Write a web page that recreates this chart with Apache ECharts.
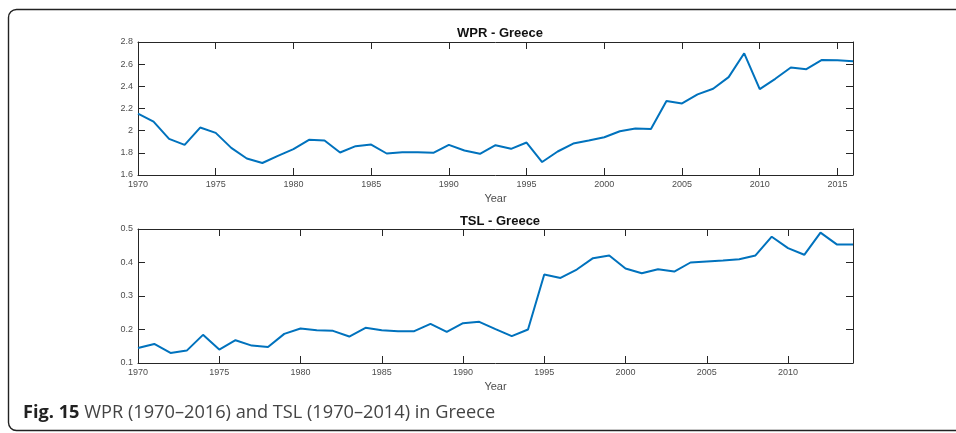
<!DOCTYPE html>
<html>
<head>
<meta charset="utf-8">
<script src="https://cdn.jsdelivr.net/npm/echarts@6/dist/echarts.min.js"></script>
<style>
  html, body { margin: 0; padding: 0; background: #fff; }
  #main { width: 956px; height: 433px; }
</style>
</head>
<body>
<div id="main"></div>
<script>
// data
var wprYears = [];
for (var y = 1970; y <= 2016; y++) wprYears.push(y);
var wprValues = [2.154, 2.082, 1.926, 1.872, 2.028, 1.980, 1.845, 1.749, 1.708, 1.773,
                 1.833, 1.917, 1.911, 1.803, 1.860, 1.875, 1.794, 1.806, 1.806, 1.800,
                 1.872, 1.821, 1.791, 1.869, 1.836, 1.893, 1.717, 1.812, 1.884, 1.911,
                 1.941, 1.995, 2.019, 2.016, 2.267, 2.246, 2.327, 2.378, 2.483, 2.698,
                 2.375, 2.468, 2.570, 2.555, 2.638, 2.635, 2.626];

var tslYears = [];
for (var y2 = 1970; y2 <= 2014; y2++) tslYears.push(y2);
var tslValues = [0.145, 0.157, 0.130, 0.137, 0.184, 0.140, 0.168, 0.152, 0.148, 0.187,
                 0.203, 0.198, 0.196, 0.179, 0.205, 0.198, 0.195, 0.195, 0.217, 0.193,
                 0.219, 0.223, 0.201, 0.180, 0.200, 0.364, 0.354, 0.379, 0.413, 0.421,
                 0.382, 0.368, 0.380, 0.373, 0.400, 0.403, 0.406, 0.410, 0.421, 0.477,
                 0.443, 0.423, 0.489, 0.454, 0.454];

var titles = ['WPR - Greece', 'TSL - Greece'];

function pairs(xs, ys) {
  return xs.map(function (x, i) { return [x, ys[i]]; });
}

var axisCol = '#262626';
var tickFont = { fontFamily: 'Liberation Sans, Arial', fontSize: 9, color: '#4d4d4d' };

function xAxisPair(grid, max) {
  var base = {
    type: 'value', gridIndex: grid, min: 1970, max: max, interval: 5,
    splitLine: { show: false },
    axisLine: { show: true, lineStyle: { color: axisCol, width: 1 } },
    axisTick: { show: true, inside: true, length: 7, lineStyle: { color: axisCol } }
  };
  var bottom = Object.assign({}, base, {
    position: 'bottom',
    name: 'Year', nameLocation: 'middle', nameGap: 18,
    nameTextStyle: { fontFamily: 'Liberation Sans, Arial', fontSize: 11, color: '#4d4d4d' },
    axisLabel: Object.assign({ margin: 5, showMaxLabel: false,
      formatter: function (v) { return String(v); } }, tickFont)
  });
  var top = Object.assign({}, base, { position: 'top', axisLabel: { show: false } });
  return [bottom, top];
}

function yAxisPair(grid, min, max, step) {
  var base = {
    type: 'value', gridIndex: grid, min: min, max: max, interval: step,
    splitLine: { show: false },
    axisLine: { show: true, lineStyle: { color: axisCol, width: 1 } },
    axisTick: { show: true, inside: true, length: 7, lineStyle: { color: axisCol } }
  };
  var left = Object.assign({}, base, {
    position: 'left',
    axisLabel: Object.assign({ margin: 5,
      formatter: function (v) { return String(+v.toFixed(2)); } }, tickFont)
  });
  var right = Object.assign({}, base, { position: 'right', axisLabel: { show: false } });
  return [left, right];
}

var chart = echarts.init(document.getElementById('main'));

var titleStyle = { fontFamily: 'Liberation Sans, Arial', fontSize: 13, fontWeight: 'bold', color: '#111' };

var option = {
  animation: false,
  backgroundColor: '#fff',
  title: [
    { text: titles[0], left: 495, top: 22, textAlign: 'center', textStyle: titleStyle },
    { text: titles[1], left: 495, top: 210, textAlign: 'center', textStyle: titleStyle }
  ],
  grid: [
    { left: 138, top: 42, width: 715, height: 133 },
    { left: 138, top: 229, width: 715, height: 134 }
  ],
  xAxis: xAxisPair(0, 2016).concat(xAxisPair(1, 2014)),
  yAxis: yAxisPair(0, 1.6, 2.8, 0.2).concat(yAxisPair(1, 0.1, 0.5, 0.1)),
  series: [
    { type: 'line', xAxisIndex: 0, yAxisIndex: 0, data: pairs(wprYears, wprValues),
      showSymbol: false, lineStyle: { color: '#0072BD', width: 2 } },
    { type: 'line', xAxisIndex: 2, yAxisIndex: 2, data: pairs(tslYears, tslValues),
      showSymbol: false, lineStyle: { color: '#0072BD', width: 2 } }
  ],
  graphic: [
    { type: 'rect', shape: { x: 8.5, y: 9.5, width: 1100, height: 421, r: 8 },
      style: { fill: 'none', stroke: '#222', lineWidth: 1.4 }, silent: true },
    { type: 'text', left: 23, top: 404,
      style: {
        text: '{b|Fig. 15} WPR (1970–2016) and TSL (1970–2014) in Greece',
        fontFamily: 'Open Sans', fontSize: 18.2, fill: '#444',
        rich: { b: { fontFamily: 'Open Sans', fontSize: 18.2, fontWeight: 'bold', fill: '#222' } }
      } }
  ]
};

chart.setOption(option);
</script>
</body>
</html>
